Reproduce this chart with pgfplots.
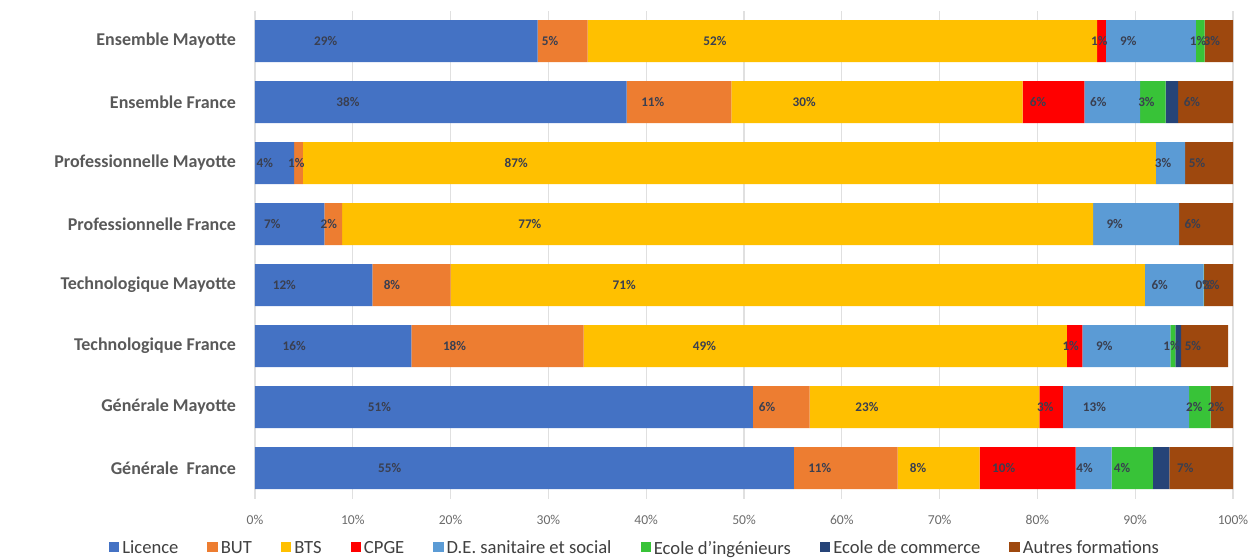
\documentclass[border=0pt]{standalone}
\usepackage{pgfplots}
\pgfplotsset{compat=1.18}
\usepackage{pgfplotstable}
\usepackage{fontspec}
\setmainfont{Carlito}
\definecolor{clic}{HTML}{4472C4}
\definecolor{cbut}{HTML}{ED7D31}
\definecolor{cbts}{HTML}{FFC000}
\definecolor{ccpge}{HTML}{FF0000}
\definecolor{cde}{HTML}{5B9BD5}
\definecolor{cing}{HTML}{38C338}
\definecolor{ccom}{HTML}{264478}
\definecolor{caut}{HTML}{9E480E}
\definecolor{lblcol}{HTML}{3A3F50}
\definecolor{tickgray}{HTML}{6B6B6B}
\definecolor{catgray}{HTML}{595959}
\definecolor{gridgray}{HTML}{E0E0E0}
\definecolor{leggray}{HTML}{404040}

\pgfplotstableread[col sep=comma]{
idx,a,al,b,bl,c,cl,d,dl,e,el,f,fl,g,gl,h,hl
0,55.1,55\%,10.6,11\%,8.4,8\%,9.8,10\%,3.7,4\%,4.2,4\%,1.7,,6.5,7\%
1,50.9,51\%,5.8,6\%,23.5,23\%,2.4,3\%,12.9,13\%,2.2,2\%,0,,2.3,2\%
2,16.0,16\%,17.6,18\%,49.4,49\%,1.6,1\%,9.0,9\%,0.5,1\%,0.6,,4.8,5\%
3,12.0,12\%,8.0,8\%,71.0,71\%,0,,6.0,6\%,0.05,0\%,0,,2.95,3\%
4,7.1,7\%,1.8,2\%,76.8,77\%,0,,8.8,9\%,0,,0,,5.5,6\%
5,4.0,4\%,0.9,1\%,87.2,87\%,0,,3.0,3\%,0,,0,,4.9,5\%
6,38.0,38\%,10.7,11\%,29.8,30\%,6.3,6\%,5.7,6\%,2.6,3\%,1.3,,5.6,6\%
7,28.9,29\%,5.1,5\%,52.1,52\%,0.9,1\%,9.2,9\%,0.9,1\%,0,,2.9,3\%
}\data

\pgfplotsset{
  mybar/.style 2 args={
    fill=#1, draw=none,
    nodes near coords,
    nodes near coords align={center},
    point meta=explicit symbolic,
    visualization depends on={\thisrow{#2}\as\rawx},
    every node near coord/.append style={anchor=center, xshift={-\rawx*1.2225pt},
      font=\bfseries\fontsize{6.6}{7}\selectfont, text=lblcol, inner sep=0pt},
  },
}

\begin{document}
\begin{tikzpicture}
\begin{axis}[
  xbar stacked, bar width=21pt,
  scale only axis, width=489pt, height=244pt,
  xmin=0, xmax=100, ymin=-0.5, ymax=7.5,
  xtick={0,10,...,100},
  xticklabel={\pgfmathprintnumber{\tick}\%},
  ytick={0,...,7},
  yticklabels={Générale~~France, Générale Mayotte, Technologique France, Technologique Mayotte, Professionnelle France, Professionnelle Mayotte, Ensemble France, Ensemble Mayotte},
  xmajorgrids, grid style={draw=gridgray, line width=0.6pt},
  axis line style={draw=none},
  tick style={draw=none},
  /pgf/number format/assume math mode=true,
  xticklabel style={font=\fontsize{6.8}{8}\selectfont, text=tickgray, yshift=-5pt},
  yticklabel style={font=\bfseries\fontsize{9}{10}\selectfont, text=catgray, xshift=-6pt},
  legend columns=8,
  legend style={at={(0.389,-0.1035)}, anchor=center, draw=none,
    font=\fontsize{9.3}{10}\selectfont, text=leggray,
    nodes={inner sep=1.5pt},
    /tikz/every even column/.append style={column sep=13pt}},
  legend image code/.code={\fill[#1] (0pt,-1.6pt) rectangle (5.2pt,3.6pt);},
]
\addplot[mybar={clic}{a}] table[x=a, y=idx, meta=al] {\data};
\addplot[mybar={cbut}{b}] table[x=b, y=idx, meta=bl] {\data};
\addplot[mybar={cbts}{c}] table[x=c, y=idx, meta=cl] {\data};
\addplot[mybar={ccpge}{d}] table[x=d, y=idx, meta=dl] {\data};
\addplot[mybar={cde}{e}] table[x=e, y=idx, meta=el] {\data};
\addplot[mybar={cing}{f}] table[x=f, y=idx, meta=fl] {\data};
\addplot[mybar={ccom}{g}] table[x=g, y=idx, meta=gl] {\data};
\addplot[mybar={caut}{h}] table[x=h, y=idx, meta=hl] {\data};
\legend{Licence, BUT, BTS, CPGE, D.E. sanitaire et social, Ecole d'ingénieurs, Ecole de commerce, Autres formations}
\end{axis}
\pgfresetboundingbox
\path (current axis.south west) ++(-127.5pt,-30.25pt) rectangle ++(625.5pt,279.5pt);
\end{tikzpicture}
\end{document}
